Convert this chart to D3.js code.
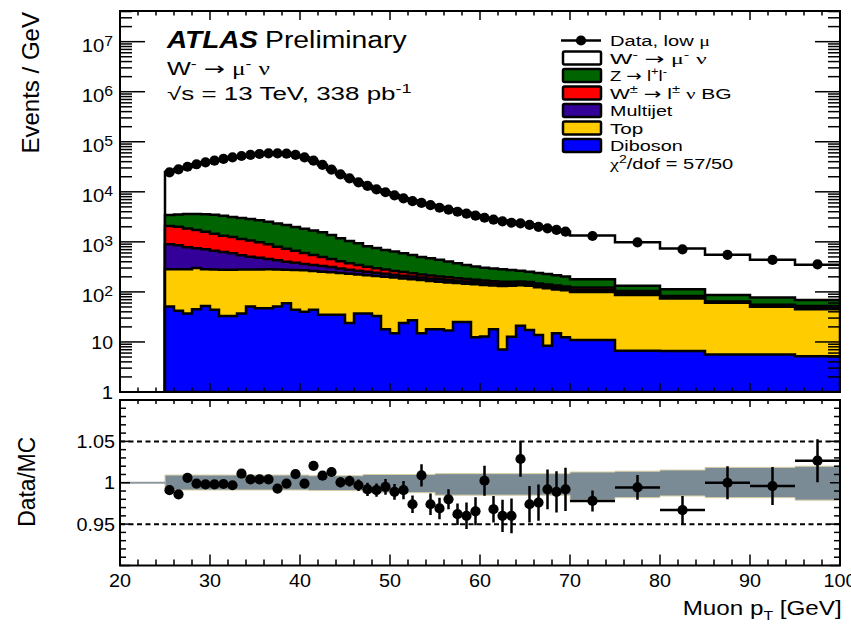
<!DOCTYPE html>
<html>
<head>
<meta charset="utf-8">
<script src="https://cdn.jsdelivr.net/npm/d3@7"></script>
<style>
  body { margin: 0; background: #fff; }
  svg { display: block; }
</style>
</head>
<body>
<svg id="chart" width="851" height="625"></svg>
<script>
// ---- binning (GeV): 1 GeV bins up to 70, then 5 GeV bins ----
const binEdges = [25,26,27,28,29,30,31,32,33,34,35,36,37,38,39,40,41,42,43,44,45,46,47,48,49,
  50,51,52,53,54,55,56,57,58,59,60,61,62,63,64,65,66,67,68,69,70,75,80,85,90,95,100];

// ---- data, events / GeV ----
const dataVals = [24500,28200,31700,35500,38900,41900,45400,48800,51900,54500,
  57000,58800,58800,57700,54500,48800,41900,34400,27800,22400,
  18600,15500,13100,11200,9800,8500,7400,6500,6000,5400,
  4800,4400,4000,3650,3330,3030,2770,2560,2410,2350,
  2180,2000,1860,1730,1600,
  1310,980,710,550,435,356];

// ---- simulated contributions, events / GeV ----
const wSignal = [21300,25100,27900,31900,35400,38500,42100,45800,48300,51400,
  54100,56000,56900,55600,51900,47000,39400,32600,26100,21200,
  17500,14600,12400,10500,9160,7950,6880,6130,5450,5070,
  4510,4090,3780,3460,3130,2720,2570,2380,2240,2020,
  1985,1810,1650,1530,1410,
  1160,850,620,463,360,278];
const zLL = [1365,1520,1750,1870,1980,2020,2000,1900,1865,1790,
  1730,1635,1540,1428,1322,1230,1143,1050,915,772,
  667,596,501,452,411,377,341,309,277,257,
  236,209,187,164,145,135,131,125,115,103,
  96,92,88,81,75,
  57,28,31,22,22.5,17];
const wBackground = [1180,1145,1060,985,878,792,702,660,605,554,
  497,440,372,330,284,238,201,170,140,115,
  95,80,67,57,49,43,38,34,30,27,
  25,23,21,19,18,17,16,15,14,13,
  12,12,11,11,10,
  12,9,4.5,2,2.3,3.5];
const multijet = [612,573,498,445,427,388,350,312,260,226,
  203,173,148,124,109,90,84,78,69,55,
  48,42,37,33,30,27,25,23,21,20,
  19,18,17,16,15,15,14,14,13,13,
  12,12,11,11,10,
  11,9,4.5,2,2.2,3.5];
const topQuark = [232,240,245,255,233,236,245,245,243,229,
  233,235,229,219,231,232,218,217,211,203,
  206,185,178,175,182,178,162,152,157,148,
  142,138,125,121,130,125,116,124,120,115,
  116,110,110,97,96,
  89,80,67,55,45,40];
const diboson = [51,42,37,45,52,44,33,33,37,51,
  47,47,51,59,44,40,44,35,35,35,
  24,37,37,33,18,15,24,27,15,18,
  18,17,25,25,12.4,12.8,18,7.1,12.7,21,
  17.3,13.8,8.4,14.9,12.4,
  11,6.7,6.6,5.6,5.6,5.2];

// ---- ratio panel ----
const ratioVals = [0.991,0.986,1.006,0.999,0.998,0.998,0.9985,0.997,1.011,1.004,
  1.004,1.004,0.993,0.999,1.0105,0.999,1.0205,1.0085,1.013,1.0005,
  1.002,0.997,0.992,0.991,0.995,0.989,0.991,0.974,1.009,0.974,
  0.969,0.980,0.962,0.960,0.9655,1.0024,0.968,0.960,0.960,1.0287,
  0.974,0.976,0.992,0.989,0.992,
  0.978,0.9944,0.967,1.0,0.996,1.0267];
const ratioErr = [0.004,0.004,0.004,0.0035,0.0035,0.0035,0.0035,0.0035,0.004,0.004,
  0.004,0.004,0.004,0.004,0.004,0.0045,0.0045,0.005,0.0055,0.006,
  0.0065,0.007,0.008,0.008,0.0095,0.0095,0.011,0.0105,0.0135,0.013,
  0.013,0.012,0.013,0.016,0.017,0.018,0.016,0.0195,0.021,0.0216,
  0.022,0.022,0.024,0.025,0.026,
  0.0127,0.015,0.017,0.02,0.023,0.026];
// systematic band, relative up / down
const bandUp = [0.0093,0.0093,0.0093,0.0093,0.0093,0.0093,0.0093,0.0093,0.0093,0.0093,
  0.0093,0.0093,0.0093,0.0093,0.0093,0.0093,0.0085,0.0085,0.0085,0.0085,
  0.0085,0.0085,0.010,0.010,0.010,0.010,0.010,0.010,0.010,0.010,
  0.011,0.011,0.011,0.011,0.011,0.011,0.011,0.011,0.011,0.011,
  0.011,0.011,0.011,0.011,0.011,
  0.013,0.014,0.0154,0.0186,0.0186,0.020];
const bandDn = [0.0088,0.0088,0.0088,0.0088,0.0088,0.0088,0.0088,0.0088,0.0088,0.0088,
  0.0088,0.0088,0.0088,0.0088,0.0088,0.0088,0.0095,0.0095,0.0095,0.0095,
  0.0095,0.0095,0.012,0.012,0.012,0.012,0.012,0.012,0.012,0.012,
  0.015,0.015,0.015,0.015,0.015,0.015,0.015,0.015,0.015,0.015,
  0.015,0.015,0.015,0.015,0.015,
  0.021,0.018,0.016,0.018,0.018,0.021];

// ---- axis ticks ----
const xMajorTicks = [20,30,40,50,60,70,80,90,100];
const yLogDecades = [0,1,2,3,4,5,6,7];
const ratioLabelTicks = [0.95,1,1.05];

// ---- styling ----
const FONT = "'Liberation Sans', Arial, Helvetica, sans-serif";
const SERIF = "'Liberation Serif', 'DejaVu Serif', serif";
const ARROW = "'DejaVu Sans', sans-serif";
const STRETCH = 1.15;
const MARKER_R = 5.1;

const svg = d3.select("#chart");
const L = 120, R = 840, T0 = 11, T1 = 392, B0 = 400, B1 = 565.5;

const x = d3.scaleLinear().domain([20, 100]).range([L, R]);
const y = d3.scaleLog().domain([1, 4.1e7]).range([T1, T0]);
const yr = d3.scaleLinear().domain([0.9, 1.1]).range([B1, B0]);

const defs = svg.append("defs");
defs.append("clipPath").attr("id", "clipTop").append("rect")
  .attr("x", L).attr("y", T0).attr("width", R - L).attr("height", T1 - T0);
defs.append("clipPath").attr("id", "clipRat").append("rect")
  .attr("x", L).attr("y", B0).attr("width", R - L).attr("height", B1 - B0);

// text helper: parts are strings or {t, sup, sub, serif, arrow, size}
function label(g, px, py, parts, o) {
  const t = g.append("text")
    .attr("x", px).attr("y", py)
    .attr("font-family", FONT)
    .attr("font-size", o.size)
    .attr("text-anchor", o.anchor || "start")
    .attr("fill", "#000");
  if (o.bold) t.attr("font-weight", "bold");
  if (o.italic) t.attr("font-style", "italic");
  if (o.transform) t.attr("transform", o.transform);
  let shift = 0;
  parts.forEach(p => {
    const q = typeof p === "string" ? { t: p } : p;
    const s = t.append("tspan").text(q.t);
    let target = 0;
    if (q.sup) target = -(q.rise != null ? q.rise : o.size * 0.42);
    if (q.sub) target = (q.drop != null ? q.drop : o.size * 0.3);
    if (target !== shift) { s.attr("dy", target - shift); shift = target; }
    if (q.sup || q.sub) s.attr("font-size", q.size || o.size * 0.7);
    if (q.size && !q.sup && !q.sub) s.attr("font-size", q.size);
    if (q.serif) s.attr("font-family", SERIF).attr("font-style", "normal");
    if (q.arrow) s.attr("font-family", ARROW).attr("font-style", "normal");
  });
  const w = o.width || (t.node().getComputedTextLength() * (o.stretch || STRETCH));
  t.attr("textLength", w).attr("lengthAdjust", "spacingAndGlyphs");
  return t;
}

// ================= upper panel: stacked histograms =================
const comps = [
  { key: "diboson", vals: diboson, color: "#0000ff" },
  { key: "top", vals: topQuark, color: "#ffcc00" },
  { key: "multijet", vals: multijet, color: "#330099" },
  { key: "wbg", vals: wBackground, color: "#ff0000" },
  { key: "zll", vals: zLL, color: "#006400" },
  { key: "wsig", vals: wSignal, color: "#ffffff" }
];
const rows = binEdges.slice(0, -1).map((lo, i) => {
  const r = { lo: lo, hi: binEdges[i + 1] };
  comps.forEach(c => { r[c.key] = c.vals[i]; });
  return r;
});
const stacked = d3.stack().keys(comps.map(c => c.key))(rows);

const gTop = svg.append("g").attr("clip-path", "url(#clipTop)");
const stepArea = d3.area().curve(d3.curveStepAfter)
  .x(d => x(d.x)).y0(y(1)).y1(d => y(d.v));

stacked.slice().reverse().forEach(s => {
  const comp = comps.find(c => c.key === s.key);
  const pts = s.map((d, i) => ({ x: rows[i].lo, v: d[1] }));
  pts.push({ x: rows[rows.length - 1].hi, v: s[s.length - 1][1] });
  gTop.append("path")
    .attr("d", stepArea(pts))
    .attr("fill", comp.color)
    .attr("stroke", "#000")
    .attr("stroke-width", 2.5)
    .attr("stroke-linejoin", "miter");
});

// data markers
gTop.selectAll("circle.data").data(rows).join("circle")
  .attr("class", "data")
  .attr("cx", d => x((d.lo + d.hi) / 2))
  .attr("cy", (d, i) => y(dataVals[i]))
  .attr("r", MARKER_R)
  .attr("fill", "#000");

// ================= lower panel: Data/MC =================
const gRat = svg.append("g").attr("clip-path", "url(#clipRat)");
const bandPts = rows.map((d, i) => ({ x: d.lo, up: bandUp[i], dn: bandDn[i] }));
bandPts.push({ x: rows[rows.length - 1].hi, up: bandUp[bandUp.length - 1], dn: bandDn[bandDn.length - 1] });
const bandArea = d3.area().curve(d3.curveStepAfter)
  .x(d => x(d.x)).y0(d => yr(1 - d.dn)).y1(d => yr(1 + d.up));
gRat.append("path").attr("d", bandArea(bandPts))
  .attr("fill", "#7b8b95").attr("stroke", "#d8cfa6").attr("stroke-width", 1);

// reference line for the empty region below 25 GeV
gRat.append("line")
  .attr("x1", x(20)).attr("x2", x(binEdges[0]))
  .attr("y1", yr(1)).attr("y2", yr(1))
  .attr("stroke", "#8e999f").attr("stroke-width", 2);

// dashed guides at +-5%
[0.95, 1.05].forEach(v => {
  gRat.append("line")
    .attr("x1", L).attr("x2", R).attr("y1", yr(v)).attr("y2", yr(v))
    .attr("stroke", "#000").attr("stroke-width", 2)
    .attr("stroke-dasharray", "5,3.5");
});

// ratio points with error bars
const ratG = gRat.append("g");
rows.forEach((d, i) => {
  const cx = x((d.lo + d.hi) / 2);
  ratG.append("line")
    .attr("x1", cx).attr("x2", cx)
    .attr("y1", yr(ratioVals[i] - ratioErr[i])).attr("y2", yr(ratioVals[i] + ratioErr[i]))
    .attr("stroke", "#000").attr("stroke-width", 2.5);
  ratG.append("line")
    .attr("x1", x(d.lo)).attr("x2", x(d.hi))
    .attr("y1", yr(ratioVals[i])).attr("y2", yr(ratioVals[i]))
    .attr("stroke", "#000").attr("stroke-width", 2.5);
  ratG.append("circle")
    .attr("cx", cx).attr("cy", yr(ratioVals[i])).attr("r", MARKER_R).attr("fill", "#000");
});

// ================= frames and ticks =================
const axes = svg.append("g").attr("stroke", "#000").attr("stroke-width", 1.5);
function tick(x1, y1, x2, y2) {
  axes.append("line").attr("x1", x1).attr("y1", y1).attr("x2", x2).attr("y2", y2);
}
[[T0, T1], [B0, B1]].forEach(([a, b]) => {
  axes.append("rect").attr("x", L).attr("y", a).attr("width", R - L).attr("height", b - a)
    .attr("fill", "none").attr("stroke-width", 2);
});

// x ticks (both panels)
const xMinor = d3.range(20, 101, 2).filter(v => !xMajorTicks.includes(v));
xMajorTicks.forEach(v => {
  tick(x(v), T1, x(v), T1 - 9); tick(x(v), T0, x(v), T0 + 9);
  tick(x(v), B1, x(v), B1 - 11); tick(x(v), B0, x(v), B0 + 7);
});
xMinor.forEach(v => {
  tick(x(v), T1, x(v), T1 - 4.5); tick(x(v), T0, x(v), T0 + 4.5);
  tick(x(v), B1, x(v), B1 - 6); tick(x(v), B0, x(v), B0 + 4);
});

// log y ticks
yLogDecades.forEach(n => {
  const v = Math.pow(10, n);
  tick(L, y(v), L + 25, y(v)); tick(R, y(v), R - 25, y(v));
  for (let k = 2; k <= 9; k++) {
    const m = k * v;
    if (m > y.domain()[1]) break;
    tick(L, y(m), L + 12, y(m)); tick(R, y(m), R - 12, y(m));
  }
});

// ratio y ticks: major every 0.05, minor every 0.01
d3.range(0, 21).forEach(i => {
  const v = 0.9 + i * 0.01;
  const major = i % 5 === 0;
  const len = major ? 10 : 6;
  tick(L, yr(v), L + len, yr(v)); tick(R, yr(v), R - len, yr(v));
});

// ================= tick labels =================
const gl = svg.append("g");
xMajorTicks.forEach(v => {
  label(gl, x(v), 587, [String(v)], { size: 17.5, anchor: "middle", stretch: 1.13 });
});
yLogDecades.forEach(n => {
  const ty = y(Math.pow(10, n));
  if (n === 0) label(gl, 113, ty + 6.5, ["1"], { size: 18, anchor: "end", stretch: 1.13 });
  else if (n === 1) label(gl, 113, ty + 6.6, ["10"], { size: 18, anchor: "end", stretch: 1.08 });
  else label(gl, 113, ty + 10, ["10", { t: String(n), sup: true, rise: 5.5, size: 14 }],
    { size: 18, anchor: "end", width: 31.3 });
});
ratioLabelTicks.forEach(v => {
  const txt = v === 1 ? "1" : String(v);
  label(gl, 115, yr(v) + 6.5, [txt], { size: 18, anchor: "end", stretch: 1.1 });
});

// ================= axis titles =================
label(gl, 0, 0, ["Events / GeV"], { size: 24, anchor: "end", width: 141.6,
  transform: "translate(39,12) rotate(-90)" });
label(gl, 0, 0, ["Data/MC"], { size: 23.5, anchor: "middle", width: 90,
  transform: "translate(35,481.7) rotate(-90)" });
label(gl, 841.7, 615, ["Muon p", { t: "T", sub: true, drop: 5, size: 13 }, { t: " [GeV]", sub: false }],
  { size: 20, anchor: "end", width: 159 });

// ================= ATLAS label =================
label(gl, 167, 48.3, ["ATLAS"], { size: 23, bold: true, italic: true, width: 91 });
label(gl, 265, 48.3, ["Preliminary"], { size: 23, width: 141.7 });
label(gl, 167, 75, ["W", { t: "-", sup: true, rise: 7 }, "  ", { t: "→", arrow: true }, " ",
  { t: "μ", serif: true }, { t: "-", sup: true, rise: 7 }, { t: "  " }, { t: "ν", serif: true }],
  { size: 18, width: 103 });
label(gl, 167, 100, ["√s = 13 TeV, 338 pb", { t: "-1", sup: true, rise: 7 }],
  { size: 18, width: 244.7 });

// ================= legend =================
const lg = svg.append("g");
const rowY = i => 40.5 + 17.5 * i;
const boxX = 563, boxW = 38, boxH = 13, textX = 610, LS = 15.5;

lg.append("line").attr("x1", 561).attr("x2", 601).attr("y1", rowY(0)).attr("y2", rowY(0))
  .attr("stroke", "#000").attr("stroke-width", 2.5);
lg.append("circle").attr("cx", 581).attr("cy", rowY(0)).attr("r", MARKER_R).attr("fill", "#000");
label(lg, textX, rowY(0) + 5.5, ["Data, low ", { t: "μ", serif: true }], { size: LS, width: 100 });

const legendEntries = [
  { color: "#ffffff", parts: ["W", { t: "-", sup: true, rise: 6 }, "  ", { t: "→", arrow: true }, " ",
      { t: "μ", serif: true }, { t: "-", sup: true, rise: 6 }, "  ", { t: "ν", serif: true }], w: 96.7 },
  { color: "#006400", parts: ["Z ", { t: "→", arrow: true }, " l", { t: "+", sup: true, rise: 6 }, "l",
      { t: "-", sup: true, rise: 6 }], w: 57 },
  { color: "#ff0000", parts: ["W", { t: "±", sup: true, rise: 6 }, " ", { t: "→", arrow: true }, " l",
      { t: "±", sup: true, rise: 6 }, " ", { t: "ν", serif: true }, " BG"], w: 121.7 },
  { color: "#330099", parts: ["Multijet"], w: 62.3 },
  { color: "#ffcc00", parts: ["Top"], w: 33.3 },
  { color: "#0000ff", parts: ["Diboson"], w: 72.7 }
];
legendEntries.forEach((e, i) => {
  const cy = rowY(i + 1);
  lg.append("rect").attr("x", boxX).attr("y", cy - boxH / 2).attr("width", boxW).attr("height", boxH)
    .attr("rx", 1.5).attr("fill", e.color).attr("stroke", "#000").attr("stroke-width", 2.5);
  label(lg, textX, cy + 5.5, e.parts, { size: LS, width: e.w });
});
label(lg, textX, rowY(7) + 5.5, [{ t: "χ", serif: true }, { t: "2", sup: true, rise: 6 }, "/dof = 57/50"],
  { size: LS, width: 123.3 });
</script>
</body>
</html>
